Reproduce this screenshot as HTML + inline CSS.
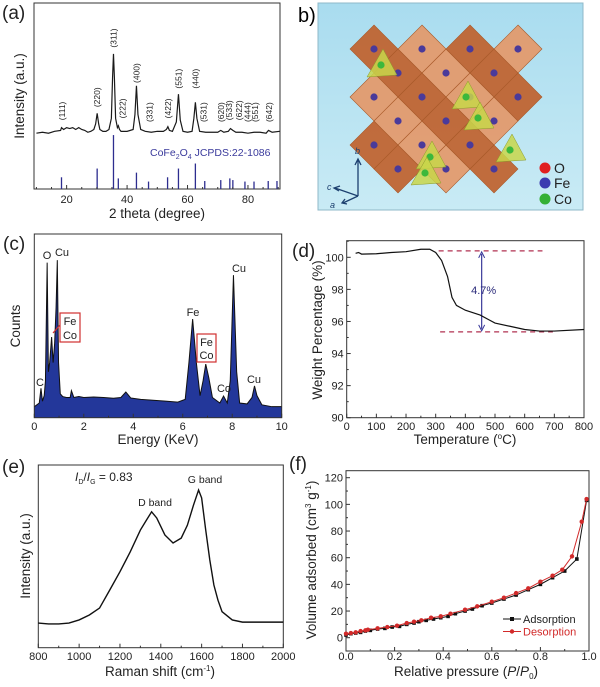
<!DOCTYPE html>
<html><head><meta charset="utf-8">
<style>
html,body{margin:0;padding:0;background:#fff;}
svg{display:block;font-family:"Liberation Sans",Arial,sans-serif;}
</style></head>
<body>
<svg id="fig" width="600" height="687" viewBox="0 0 600 687" xmlns="http://www.w3.org/2000/svg">
<defs>
<linearGradient id="bg" x1="0" y1="0" x2="0" y2="1"><stop offset="0" stop-color="#a9dcef"/><stop offset="1" stop-color="#c9ebf5"/></linearGradient>
</defs>
<g>
<rect x="318" y="3" width="265" height="207" fill="url(#bg)" stroke="#8fb8c8"/>
<g id="crystal"></g>
<g stroke="#1c3f6e" stroke-width="1.3" fill="none">
<line x1="358" y1="196" x2="358" y2="160"/><polyline points="355,165 358,159 361,165"/>
<line x1="358" y1="196" x2="335" y2="188"/><polyline points="340,186 334,188 339,191"/>
<line x1="358" y1="196" x2="343" y2="203"/><polyline points="345,199 342,203 347,204"/>
</g>
<text x="355" y="154" font-size="9" font-style="italic" fill="#1c3f6e">b</text>
<text x="327" y="190" font-size="9" font-style="italic" fill="#1c3f6e">c</text>
<text x="330" y="208" font-size="9" font-style="italic" fill="#1c3f6e">a</text>
<circle cx="545" cy="168" r="5.5" fill="#e02020"/>
<circle cx="545" cy="183" r="5.5" fill="#3b3bb0"/>
<circle cx="545" cy="199" r="5.5" fill="#35b035"/>
<text x="554" y="173" font-size="14" fill="#222">O</text>
<text x="554" y="188" font-size="14" fill="#222">Fe</text>
<text x="554" y="204" font-size="14" fill="#222">Co</text>
</g>
<text x="298" y="22" font-size="20">b)</text>
</svg>
<script>
const xrdTheta=[10,12,14,16,18,18.3,19,20,21,22,23,24,25,26,27,28,29,29.6,30.1,30.6,31,32,33,34,34.8,35.2,35.5,35.8,36.2,36.8,37.1,37.5,38,40,42,42.6,43.1,43.6,44.5,46,48,50,52,53,53.5,54,55,56.3,57,57.6,58.5,60,61.5,62.1,62.6,63.1,64,66,68,70,71,72,73.5,74.2,75,76,78,80,82,84,86,86.8,88,90.5];
const xrdInt=[30,30.5,30,31,31.5,33,32,33,32.5,33,32,33,32,31.5,30.5,31,32,35,40.7,35,32,31,31,32,38,60,72.6,60,38,33,34,32,31,31,32,40,55.5,40,32,31,30.5,31,31,32,33.5,31.5,31,36,51,37,31,30.5,31,38,46.6,38,31,30.5,30.5,30.5,31.5,30.5,31,32.5,31.5,30.5,30.5,30,30.5,30.5,30,31.5,30.5,31];
const refTheta=[18.3,30.1,35.5,37.1,43.1,47.1,53.4,57,62.6,65.7,71,74,75,79,82,86.7,89.6];
const refHeight=[6.3,11,29,5.7,8.8,4,6.3,11,13.7,4.3,4.8,5.7,4.8,4,4,4.3,4.3];
const hklLabels=["(111)","(220)","(311)","(222)","(400)","(331)","(422)","(551)","(440)","(531)","(620)","(533)","(622)","(444)","(551)","(642)"];
const hklTheta=[18.5,30.1,35.5,38.5,43.1,47.5,53.5,57.0,62.6,65.3,71.0,73.8,77.0,79.8,82.4,86.9];
const hklBase=[37,44,76,38,57,36,38,54,54,36,36,37,37,36,36,36];
const xrdTicks=[20,40,60,80];
const edsE=[0,0.1,0.2,0.27,0.33,0.4,0.45,0.52,0.57,0.62,0.7,0.76,0.82,0.88,0.93,0.98,1.05,1.15,1.3,1.45,1.5,1.6,1.8,2,2.4,2.8,3.2,3.5,3.7,3.9,4.3,4.8,5.3,5.8,6.1,6.25,6.4,6.55,6.7,6.82,6.93,7.05,7.2,7.5,7.65,7.8,7.92,8.05,8.18,8.3,8.6,8.8,8.9,9.0,9.2,9.6,10];
const edsCounts=[6,7,8,16,9,12,20,84.4,25,30,43.9,30,40,60,85.8,30,13,11.5,11,11,14.7,11,11.5,11,11.3,11,10.6,11,14,10.7,10,9.5,9,8.5,10,30,53.7,30,12,20,29.2,22,11,8,11.8,8,20,77.6,25,8,7.5,11,17.3,12,7,6,6];
const edsTicks=[0,2,4,6,8,10];
const tgaT=[30,40,50,100,150,200,250,280,300,320,340,355,370,400,450,480,500,550,600,650,700,800];
const tgaW=[100.25,100.3,100.2,100.22,100.3,100.35,100.5,100.5,100.3,99.8,98.8,97.5,97.0,96.7,96.4,96.1,95.9,95.7,95.5,95.4,95.4,95.5];
const tgaXTicks=[0,100,200,300,400,500,600,700,800];
const tgaYTicks=[90,92,94,96,98,100];
const ramanShift=[800,850,900,950,1000,1050,1100,1150,1200,1250,1300,1330,1355,1380,1420,1460,1500,1530,1560,1585,1600,1620,1640,1660,1680,1700,1750,1800,1900,2000];
const ramanInt=[13.5,13,13,13.5,15.2,17.9,21.7,31.6,41.6,52.4,64.4,69.9,74.4,71,61.7,57.3,60,67,78,86.3,82,64.4,48,34.3,26,19.7,15.2,14,14,14];
const ramanTicks=[800,1000,1200,1400,1600,1800,2000];
const adsP=[0,0.02,0.04,0.06,0.08,0.1,0.13,0.16,0.19,0.22,0.25,0.28,0.3,0.33,0.36,0.39,0.42,0.45,0.49,0.52,0.56,0.6,0.65,0.7,0.75,0.8,0.85,0.9,0.95,0.99];
const adsV=[2,3,3.5,4,5,5.5,6.5,7,8,8.5,10,11,12,13,14,15,16,18,20,21.5,24,26,29,32,36,40,45,50,59,103];
const desP=[0,0.02,0.04,0.06,0.08,0.09,0.13,0.17,0.21,0.25,0.28,0.31,0.35,0.39,0.43,0.49,0.54,0.6,0.65,0.7,0.75,0.8,0.85,0.89,0.93,0.97,0.99];
const desV=[3,3.5,4,5,5.5,6,7,8,9,11,12,13,15,16,18,21,23.5,27,30,33.5,37,42,46.5,51,61,87,104];
const betXTicks=[0,0.2,0.4,0.6,0.8,1.0];
const betYTicks=[0,20,40,60,80,100,120];

const NS="http://www.w3.org/2000/svg";
const svg=document.getElementById('fig');
function mk(tag,attrs,parent){const e=document.createElementNS(NS,tag);for(const k in attrs)e.setAttribute(k,attrs[k]);(parent||svg).appendChild(e);return e;}
function txt(x,y,s,size,anchor,parent,extra){const t=mk('text',Object.assign({x:x,y:y,'font-size':size,'text-anchor':anchor||'start',fill:'#222'},extra||{}),parent);t.textContent=s;return t;}
function lin(d0,d1,r0,r1){return v=>r0+(v-d0)*(r1-r0)/(d1-d0);}
function pts(xs,ys,sx,sy){return xs.map((v,i)=>sx(v).toFixed(2)+','+sy(ys[i]).toFixed(2)).join(' ');}

(function(){
const g=mk('g',{});


const L=34,R=280,T=3,B=189;
const sx=lin(9.2,90.6,L,R), sy=lin(0,100,B,T);
const box=mk('rect',{x:L,y:T,width:R-L,height:B-T,fill:'none',stroke:'#333','stroke-width':1},g);


refTheta.forEach((t,i)=>{const s=mk('line',{x1:sx(t),x2:sx(t),y1:sy(0),y2:sy(refHeight[i]),stroke:'#2d2d8f','stroke-width':1.3},g);

});
const p=mk('polyline',{points:pts(xrdTheta,xrdInt,sx,sy),fill:'none',stroke:'#1a1a1a','stroke-width':1.2},g);


hklLabels.forEach((s,i)=>{const x=sx(hklTheta[i])+3,y=sy(hklBase[i]);const t=txt(x,y,s,8.5,'start',g,{transform:'rotate(-90 '+x+' '+y+')'});

});
for(let v=10;v<=90;v+=5){const maj=v%20===0;const k=mk('line',{x1:sx(v),x2:sx(v),y1:B,y2:B-(maj?4:2),stroke:'#333'},g);

}
xrdTicks.forEach(v=>{const t=txt(sx(v),203,String(v),11,'middle',g);

});
const ref=mk('text',{x:150,y:156,'font-size':10.5,fill:'#3a3a9c'},g);
ref.innerHTML='CoFe<tspan font-size="7" dy="3">2</tspan><tspan dy="-3">O</tspan><tspan font-size="7" dy="3">4</tspan><tspan dy="-3"> JCPDS:22-1086</tspan>';


const xt=txt(157,218,'2 theta (degree)',13.5,'middle',g);


const yt=txt(24,96,'Intensity (a.u.)',13.5,'middle',g,{transform:'rotate(-90 24 96)'});


const pl=txt(2,19,'(a)',19,'start',g);


})();

(function(){
const g=document.getElementById('crystal');
const cx0=350,cy0=25,s=24;
const cells=[];
for(let i=0;i<9;i++)for(let j=0;j<8;j++){if((i+j)%2)continue;const x=cx0+i*s,y=cy0+j*s;
 if(x<352||x>530||y<40||y>190)continue;
 if(x>505&&y>140)continue;
 const dx=x-441,dy=y-112; if(Math.abs(dx)+Math.abs(dy)*0.75>125)continue; cells.push([x,y]);}
cells.forEach(([x,y],k)=>{const i=(x-cx0)/s,j=(y-cy0)/s;const dark=((i-j)%4+4)%4===0;
 const d=mk('polygon',{points:(x)+','+(y-s)+' '+(x+s)+','+y+' '+x+','+(y+s)+' '+(x-s)+','+y,fill:dark?'#c0622e':'#e3996a',stroke:'#a85a2a','stroke-width':0.6,'fill-opacity':0.93},g);
 
 
 const a=mk('circle',{cx:x,cy:y,r:3.6,fill:'#4a3a9a'},g);
 
 });
[[381,65],[466,97],[478,118],[430,157],[425,173],[510,150]].forEach(([x,y])=>{
 const t=mk('polygon',{points:(x-14)+','+(y+12)+' '+(x+16)+','+(y+10)+' '+(x+2)+','+(y-16),fill:'#c8d64a','fill-opacity':0.85,stroke:'#8a9a2a','stroke-width':0.5},g);
 
 
 const c=mk('circle',{cx:x,cy:y,r:3.6,fill:'#3cb83c'},g);
 
 });
})();

(function(){
const g=mk('g',{});


const L=34.3,R=281.7,T=234,B=417.7;
const sx=lin(0,10,L,R), sy=lin(0,100,B,T);
const area=mk('polygon',{points:sx(0)+','+B+' '+pts(edsE,edsCounts,sx,sy)+' '+sx(10)+','+B,fill:'#23379a'},g);


const ln=mk('polyline',{points:pts(edsE,edsCounts,sx,sy),fill:'none',stroke:'#111','stroke-width':1},g);


const box=mk('rect',{x:L,y:T,width:R-L,height:B-T,fill:'none',stroke:'#333'},g);


for(let v=0;v<=10;v+=1){const k=mk('line',{x1:sx(v),x2:sx(v),y1:B,y2:B-(v%2?2:4),stroke:'#333'},g);

}
edsTicks.forEach(v=>{const t=txt(sx(v),430,String(v),11,'middle',g);

});
[['O',47,259],['Cu',62,256],['C',40,386],['Fe',193,316],['Cu',239,272],['Co',224,392],['Cu',254,383]].forEach(([s,x,y])=>{const t=txt(x,y,s,11,'middle',g);

});
const b1=mk('rect',{x:60,y:313,width:20,height:29,fill:'none',stroke:'#d03030','stroke-width':1.2},g);


const b2=mk('rect',{x:197,y:334,width:19,height:28,fill:'none',stroke:'#d03030','stroke-width':1.2},g);


const ar=mk('line',{x1:60,y1:325,x2:53,y2:333,stroke:'#d03030','stroke-width':1.2},g);


[['Fe',70,325],['Co',70,339],['Fe',206.5,346],['Co',206.5,359]].forEach(([s,x,y])=>{const t=txt(x,y,s,11,'middle',g);

});
const xt=txt(158,444,'Energy (KeV)',13.5,'middle',g);


const yt=txt(20,326,'Counts',13.5,'middle',g,{transform:'rotate(-90 20 326)'});


const pl=txt(3,250,'(c)',19,'start',g);


})();

(function(){
const g=mk('g',{});


const L=346.7,R=584,T=240.7,B=417.7;
const sx=lin(0,800,L,R), sy=lin(90,100,B,257.3);
const box=mk('rect',{x:L,y:T,width:R-L,height:B-T,fill:'none',stroke:'#333'},g);


const d1=mk('line',{x1:sx(310),x2:sx(660),y1:sy(100.4),y2:sy(100.4),stroke:'#b03050','stroke-dasharray':'5,4','stroke-width':1.2},g);


const d2=mk('line',{x1:sx(315),x2:sx(695),y1:sy(95.35),y2:sy(95.35),stroke:'#b03050','stroke-dasharray':'5,4','stroke-width':1.2},g);


const ax=sx(455);
const ar=mk('line',{x1:ax,x2:ax,y1:sy(100.4)+3,y2:sy(95.35)-3,stroke:'#3a3a9a','stroke-width':1.2},g);


const h1=mk('polyline',{points:(ax-3)+','+(sy(100.4)+7)+' '+ax+','+(sy(100.4)+1)+' '+(ax+3)+','+(sy(100.4)+7),fill:'none',stroke:'#3a3a9a'},g);


const h2=mk('polyline',{points:(ax-3)+','+(sy(95.35)-7)+' '+ax+','+(sy(95.35)-1)+' '+(ax+3)+','+(sy(95.35)-7),fill:'none',stroke:'#3a3a9a'},g);


const lt=txt(ax+2,294,'4.7%',11,'middle',g,{fill:'#2a2a7a'});


const p=mk('polyline',{points:pts(tgaT,tgaW,sx,sy),fill:'none',stroke:'#111','stroke-width':1.2},g);


for(let v=0;v<=800;v+=50){const k=mk('line',{x1:sx(v),x2:sx(v),y1:B,y2:B-(v%100?2:4),stroke:'#333'},g);

}
for(let v=90;v<=101;v+=1){const k=mk('line',{x1:L,x2:L+(v%2?2:4),y1:sy(v),y2:sy(v),stroke:'#333'},g);

}
tgaXTicks.forEach(v=>{const t=txt(sx(v),430,String(v),11,'middle',g);

});
tgaYTicks.forEach(v=>{const t=txt(L-3,sy(v)+4,String(v),11,'end',g);

});
const xt=mk('text',{x:465,y:444,'font-size':13.5,'text-anchor':'middle',fill:'#222'},g);
xt.innerHTML='Temperature (<tspan font-size="8" dy="-5">o</tspan><tspan dy="5">C)</tspan>';


const yt=txt(322,330,'Weight Percentage (%)',13.5,'middle',g,{transform:'rotate(-90 322 330)'});


const pl=txt(292,257,'(d)',19,'start',g);


})();

(function(){
const g=mk('g',{});


const L=38.3,R=283.3,T=465,B=647.7;
const sx=lin(800,2000,L,R), sy=lin(0,100,B,T);
const box=mk('rect',{x:L,y:T,width:R-L,height:B-T,fill:'none',stroke:'#333'},g);


const p=mk('polyline',{points:pts(ramanShift,ramanInt,sx,sy),fill:'none',stroke:'#111','stroke-width':1.4},g);


for(let v=800;v<=2000;v+=100){const k=mk('line',{x1:sx(v),x2:sx(v),y1:B,y2:B-(v%200?2:4),stroke:'#333'},g);

}
ramanTicks.forEach(v=>{const t=txt(sx(v),660,String(v),11,'middle',g);

});
const r=mk('text',{x:75,y:481,'font-size':12,fill:'#222'},g);
r.innerHTML='<tspan font-style="italic">I</tspan><tspan font-size="7" dy="3">D</tspan><tspan dy="-3">/</tspan><tspan font-style="italic">I</tspan><tspan font-size="7" dy="3">G</tspan><tspan dy="-3"> = 0.83</tspan>';


const gb=txt(205,483,'G band',10.5,'middle',g);


const db=txt(155,506,'D band',10.5,'middle',g);


const xt=mk('text',{x:160,y:676,'font-size':13.5,'text-anchor':'middle',fill:'#222'},g);
xt.innerHTML='Raman shift (cm<tspan font-size="8" dy="-5">-1</tspan><tspan dy="5">)</tspan>';


const yt=txt(30,556,'Intensity (a.u.)',13.5,'middle',g,{transform:'rotate(-90 30 556)'});


const pl=txt(2,473,'(e)',19,'start',g);


})();

(function(){
const g=mk('g',{});


const L=346,R=589,T=470.7,B=651;
const sx=lin(0,1,L,R), sy=lin(0,120,637.7,477.7);
const box=mk('rect',{x:L,y:T,width:R-L,height:B-T,fill:'none',stroke:'#333'},g);


const al=mk('polyline',{points:pts(adsP,adsV,sx,sy),fill:'none',stroke:'#111','stroke-width':1},g);


adsP.forEach((v,i)=>{const m=mk('rect',{x:sx(v)-1.8,y:sy(adsV[i])-1.8,width:3.6,height:3.6,fill:'#111'},g);

});
const dl=mk('polyline',{points:pts(desP,desV,sx,sy),fill:'none',stroke:'#d22a2a','stroke-width':1},g);


desP.forEach((v,i)=>{const m=mk('circle',{cx:sx(v),cy:sy(desV[i]),r:2.2,fill:'#d22a2a'},g);

});
for(let v=0;v<=1.0001;v+=0.1){const maj=Math.round(v*10)%2===0;const k=mk('line',{x1:sx(v),x2:sx(v),y1:B,y2:B-(maj?4:2),stroke:'#333'},g);

}
for(let v=-10;v<=120;v+=10){const k=mk('line',{x1:L,x2:L+(v%20?2:4),y1:sy(v),y2:sy(v),stroke:'#333'},g);

}
betXTicks.forEach(v=>{const t=txt(sx(v),660,v.toFixed(1),11,'middle',g);

});
betYTicks.forEach(v=>{const t=txt(L-3,sy(v)+4,String(v),11,'end',g);

});
const l1=mk('line',{x1:503,x2:521,y1:619,y2:619,stroke:'#111'},g);


const m1=mk('rect',{x:510,y:617,width:4,height:4,fill:'#111'},g);


const t1=txt(523,623,'Adsorption',11,'start',g);


const l2=mk('line',{x1:503,x2:521,y1:631.5,y2:631.5,stroke:'#d22a2a'},g);


const m2=mk('circle',{cx:512,cy:631.5,r:2.2,fill:'#d22a2a'},g);


const t2=txt(523,635.5,'Desorption',11,'start',g,{fill:'#d22a2a'});


const xt=mk('text',{x:466,y:676,'font-size':13.5,'text-anchor':'middle',fill:'#222'},g);
xt.innerHTML='Relative pressure (<tspan font-style="italic">P</tspan>/<tspan font-style="italic">P</tspan><tspan font-size="8" dy="3">0</tspan><tspan dy="-3">)</tspan>';


const yt=mk('text',{x:316,y:560,'font-size':13.5,'text-anchor':'middle',fill:'#222',transform:'rotate(-90 316 560)'},g);
yt.innerHTML='Volume adsorbed (cm<tspan font-size="8" dy="-5">3</tspan><tspan dy="5"> g</tspan><tspan font-size="8" dy="-5">-1</tspan><tspan dy="5">)</tspan>';


const pl=txt(289,470,'(f)',19,'start',g);


})();
</script>
</body></html>
